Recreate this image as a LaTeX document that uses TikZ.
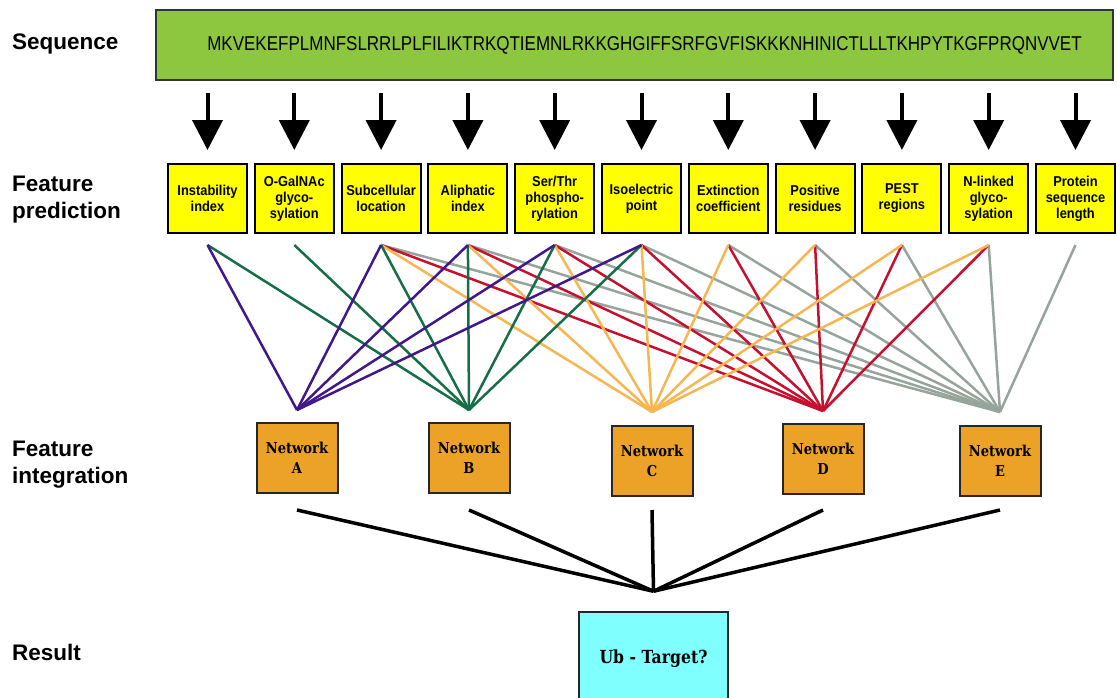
\documentclass[tikz,border=0pt]{standalone}
\usepackage{fontspec}
\setmainfont{Liberation Sans}
\newfontfamily\featfont[FakeStretch=0.9]{Liberation Sans}
\newfontfamily\seqfont[FakeStretch=0.85]{Liberation Sans}
\newfontfamily\netfont[FakeStretch=0.87]{DejaVu Serif}
\usetikzlibrary{arrows.meta,calc}

\definecolor{seqgreen}{RGB}{141,198,63}
\definecolor{featyellow}{RGB}{255,255,0}
\definecolor{netorange}{RGB}{236,162,38}
\definecolor{rescyan}{RGB}{128,255,255}
\definecolor{linepurple}{RGB}{64,24,140}
\definecolor{linegreen}{RGB}{22,110,72}
\definecolor{lineorange}{RGB}{246,182,82}
\definecolor{linered}{RGB}{198,16,48}
\definecolor{linegray}{RGB}{150,164,156}

\begin{document}
\begin{tikzpicture}[x=1pt,y=-1pt,
    rowlabel/.style={anchor=west,inner sep=0pt,align=left,font=\bfseries\fontsize{22.5}{27}\selectfont},
    seqbox/.style={draw=black!80,line width=1.5pt,fill=seqgreen,minimum width=957pt,minimum height=70pt,
        font=\seqfont\fontsize{20}{24}\selectfont},
    feat/.style={draw=black,line width=2pt,fill=featyellow,minimum width=79pt,minimum height=69pt,
        inner sep=1pt,align=center,font=\featfont\bfseries\fontsize{14.3}{16}\selectfont},
    netbox/.style={draw=black!85,line width=2pt,fill=netorange,minimum width=81pt,minimum height=70pt,
        align=center,font=\netfont\bfseries\fontsize{15}{20}\selectfont},
    resbox/.style={draw=black!85,line width=1.5pt,fill=rescyan,minimum width=149pt,minimum height=93pt,
        font=\netfont\bfseries\fontsize{18}{22}\selectfont},
    bigarrow/.style={line width=4pt,-{Triangle[width=30pt,length=30pt]}},
    fan/.style={line width=3.5pt},
    lnpurple/.style={linepurple,line width=2.5pt},
    lngreen/.style={linegreen,line width=2.5pt},
    lnorange/.style={lineorange,line width=2.5pt},
    lnred/.style={linered,line width=2.5pt},
    lngray/.style={linegray,line width=2.5pt}]
    \useasboundingbox (0,0) rectangle (1117,697);

    % row labels
    \node[rowlabel] (lseq) at (12,44) {Sequence};
    \node[rowlabel] (lpred) at (12,200) {Feature\\prediction};
    \node[rowlabel] (lint) at (12,465) {Feature\\integration};
    \node[rowlabel] (lres) at (12,652) {Result};

    % sequence
    \node[seqbox] (seq) at (634.5,45) {\hspace*{20pt}MKVEKEFPLMNFSLRRLPLFILIKTRKQTIEMNLRKKGHGIFFSRFGVFISKKKNHINICTLLLTKHPYTKGFPRQNVVET};

    % feature prediction
    \begin{scope}[every node/.style={feat}]
        \node (f1) at (207.5,198.5) {Instability\\index};
        \node (f2) at (294.3,198.5) {O-GalNAc\\glyco-\\sylation};
        \node (f3) at (381.1,198.5) {Subcellular\\location};
        \node (f4) at (467.9,198.5) {Aliphatic\\index};
        \node (f5) at (554.7,198.5) {Ser/Thr\\phospho-\\rylation};
        \node (f6) at (641.5,198.5) {Isoelectric\\point};
        \node (f7) at (728.3,198.5) {Extinction\\coefficient};
        \node (f8) at (815.1,198.5) {Positive\\residues};
        \node (f9) at (901.9,198.5) {PEST\\regions};
        \node (f10) at (988.7,198.5) {N-linked\\glyco-\\sylation};
        \node (f11) at (1075.5,198.5) {Protein\\sequence\\length};
    \end{scope}

    \draw[bigarrow] ($(seq.south -| f1)+(0,12)$) -- ($(f1.north)+(0,-13)$);
    \draw[bigarrow] ($(seq.south -| f2)+(0,12)$) -- ($(f2.north)+(0,-13)$);
    \draw[bigarrow] ($(seq.south -| f3)+(0,12)$) -- ($(f3.north)+(0,-13)$);
    \draw[bigarrow] ($(seq.south -| f4)+(0,12)$) -- ($(f4.north)+(0,-13)$);
    \draw[bigarrow] ($(seq.south -| f5)+(0,12)$) -- ($(f5.north)+(0,-13)$);
    \draw[bigarrow] ($(seq.south -| f6)+(0,12)$) -- ($(f6.north)+(0,-13)$);
    \draw[bigarrow] ($(seq.south -| f7)+(0,12)$) -- ($(f7.north)+(0,-13)$);
    \draw[bigarrow] ($(seq.south -| f8)+(0,12)$) -- ($(f8.north)+(0,-13)$);
    \draw[bigarrow] ($(seq.south -| f9)+(0,12)$) -- ($(f9.north)+(0,-13)$);
    \draw[bigarrow] ($(seq.south -| f10)+(0,12)$) -- ($(f10.north)+(0,-13)$);
    \draw[bigarrow] ($(seq.south -| f11)+(0,12)$) -- ($(f11.north)+(0,-13)$);

    % feature integration
    \begin{scope}[every node/.style={netbox}]
        \node (A) at (297,458) {Network\\A};
        \node (B) at (469,458) {Network\\B};
        \node (C) at (652,461) {Network\\C};
        \node (D) at (823,459) {Network\\D};
        \node (E) at (1000,461) {Network\\E};
    \end{scope}

    \coordinate (t1) at ($(f1.south)+(0,11)$);
    \coordinate (t2) at ($(f2.south)+(0,11)$);
    \coordinate (t3) at ($(f3.south)+(0,11)$);
    \coordinate (t4) at ($(f4.south)+(0,11)$);
    \coordinate (t5) at ($(f5.south)+(0,11)$);
    \coordinate (t6) at ($(f6.south)+(0,11)$);
    \coordinate (t7) at ($(f7.south)+(0,11)$);
    \coordinate (t8) at ($(f8.south)+(0,11)$);
    \coordinate (t9) at ($(f9.south)+(0,11)$);
    \coordinate (t10) at ($(f10.south)+(0,11)$);
    \coordinate (t11) at ($(f11.south)+(0,11)$);
    \coordinate (vA) at ($(A.north)+(0,-12)$);
    \coordinate (vB) at ($(B.north)+(0,-12)$);
    \coordinate (vC) at ($(C.north)+(0,-13)$);
    \coordinate (vD) at ($(D.north)+(0,-12)$);
    \coordinate (vE) at ($(E.north)+(0,-13)$);

    \path[lngray] (vE) edge (t3) edge (t4) edge (t5) edge (t6) edge (t7) edge (t8) edge (t9) edge (t10) edge (t11);
    \path[lnred] (vD) edge (t3) edge (t4) edge (t5) edge (t6) edge (t7) edge (t8) edge (t9) edge (t10);
    \path[lnorange] (vC) edge (t3) edge (t4) edge (t5) edge (t6) edge (t7) edge (t8) edge (t9) edge (t10);
    \path[lngreen] (vB) edge (t1) edge (t2) edge (t3) edge (t4) edge (t5) edge (t6);
    \path[lnpurple] (vA) edge (t1) edge (t3) edge (t4) edge (t5) edge (t6);

    % result
    \node[resbox] (res) at (653.5,658.5) {Ub - Target?};
    \coordinate (hub) at ($(res.north)+(0,-20)$);

    \draw[fan] ($(A.south)+(0,16)$) -- (hub);
    \draw[fan] ($(B.south)+(0,16)$) -- (hub);
    \draw[fan] ($(C.south)+(0,13)$) -- (hub);
    \draw[fan] ($(D.south)+(0,15)$) -- (hub);
    \draw[fan] ($(E.south)+(0,13)$) -- (hub);
\end{tikzpicture}
\end{document}
